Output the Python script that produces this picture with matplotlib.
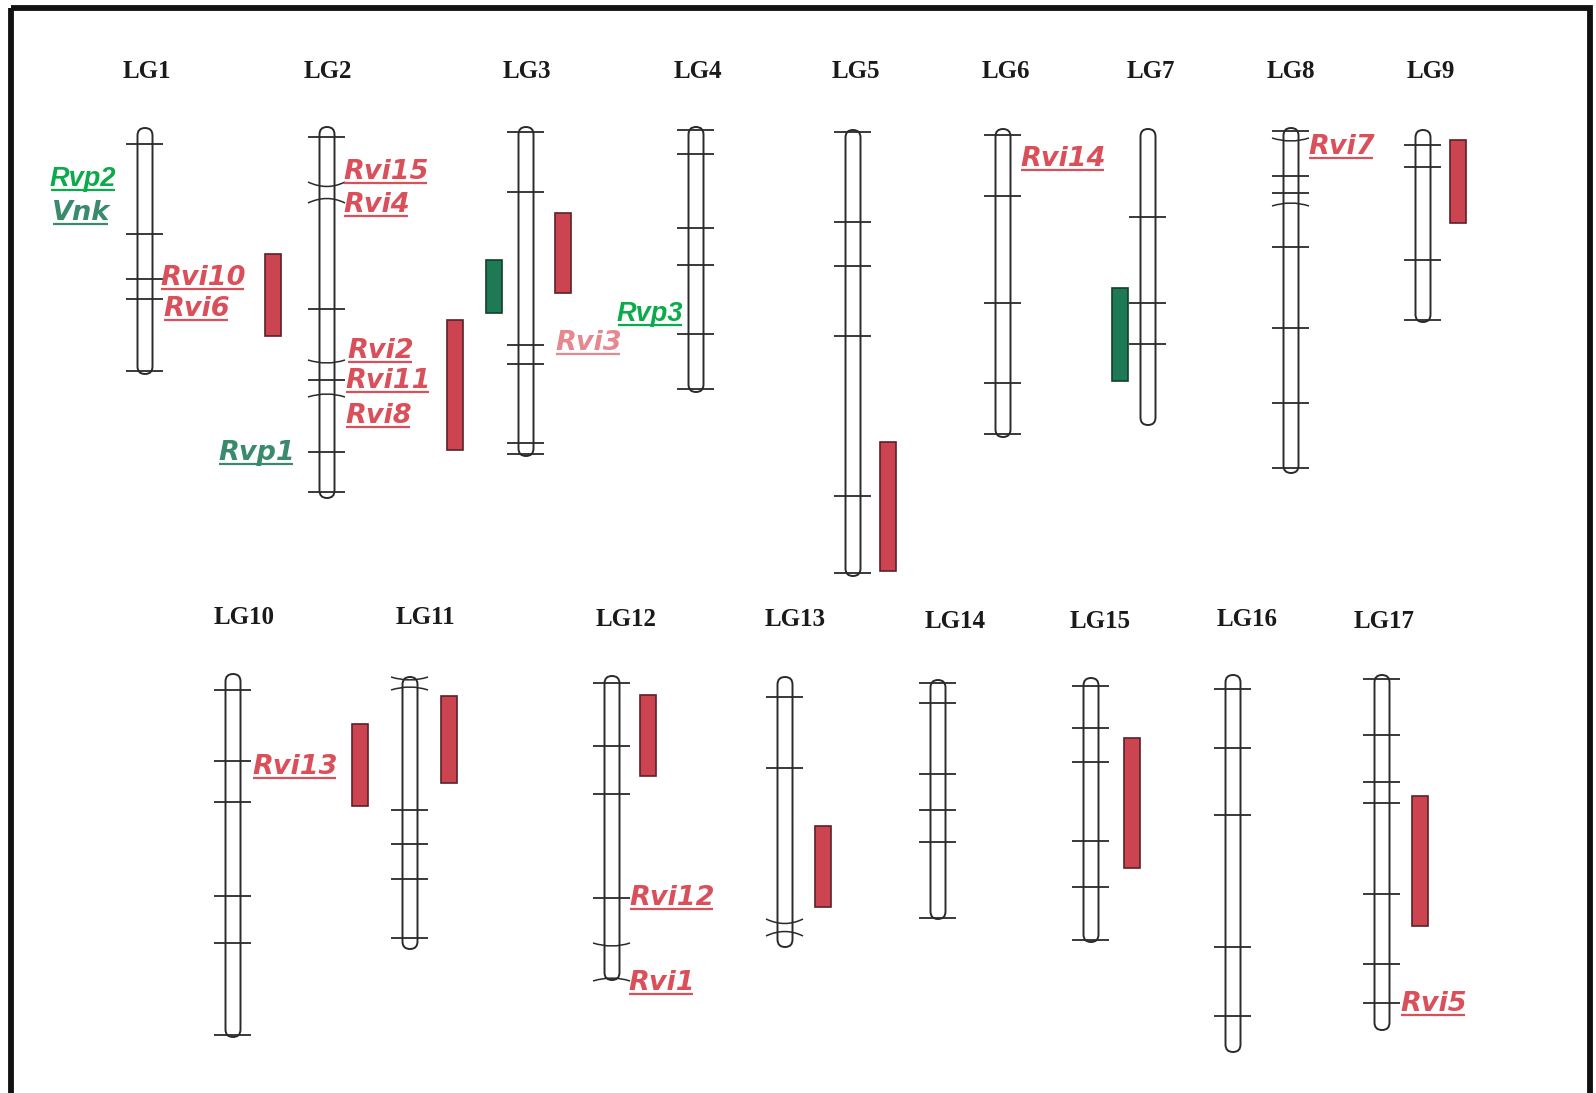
import matplotlib
matplotlib.use("Agg")
import matplotlib.pyplot as plt
from matplotlib.patches import FancyBboxPatch, Rectangle, PathPatch
from matplotlib.path import Path

# ---------------- data (pixel coordinates of the map layout) ----------------
chrom_names = ["LG1", "LG2", "LG3", "LG4", "LG5", "LG6", "LG7", "LG8", "LG9",
               "LG10", "LG11", "LG12", "LG13", "LG14", "LG15", "LG16", "LG17"]
chrom_x = [145, 327, 526, 696, 853, 1003, 1148, 1291, 1423,
           233, 410, 612, 785, 938, 1091, 1233, 1382]
chrom_top = [128, 127, 127, 127, 130, 129, 129, 128, 130,
             674, 677, 676, 677, 680, 678, 675, 675]
chrom_bottom = [374, 498, 456, 392, 576, 437, 425, 473, 322,
                1037, 949, 980, 947, 919, 942, 1052, 1030]
name_x = [147, 328, 527, 698, 856, 1006, 1151, 1291, 1431,
          244, 425, 626, 795, 955, 1100, 1247, 1384]
name_y = [72, 72, 72, 72, 72, 72, 72, 72, 72,
          618, 618, 619, 620, 621, 621, 620, 621]

# marker positions per linkage group, and curvature of the marker line (0 = straight)
marker_pos = [
    [144, 234, 279, 299, 371],
    [137, 185, 200, 309, 362, 380, 395, 452, 492],
    [132, 192, 345, 364, 443, 454],
    [130, 154, 228, 265, 334, 389],
    [132, 222, 266, 336, 496, 573],
    [135, 196, 303, 383, 434],
    [217, 303, 344],
    [131, 140, 176, 193, 204, 247, 328, 403, 468],
    [145, 167, 260, 320],
    [690, 761, 802, 896, 943, 1035],
    [679, 688, 810, 844, 879, 938],
    [683, 746, 794, 898, 945, 979],
    [697, 768, 922, 933],
    [683, 703, 774, 810, 842, 918],
    [686, 728, 762, 841, 887, 940],
    [689, 748, 815, 947, 1016],
    [679, 735, 782, 803, 894, 964, 1003],
]
marker_bow = [
    [0, 0, 0, 0, 0],
    [0, 3, -3, 0, 2, 0, -2, 0, 0],
    [0, 0, 0, 0, 0, 0],
    [0, 0, 0, 0, 0, 0],
    [0, 0, 0, 0, 0, 0],
    [0, 0, 0, 0, 0],
    [0, 0, 0],
    [0, 2, 0, 0, -2, 0, 0, 0, 0],
    [0, 0, 0, 0],
    [0, 0, 0, 0, 0, 0],
    [2, -2, 0, 0, 0, 0],
    [0, 0, 0, 0, 2, -2],
    [0, 0, 3, -3],
    [0, 0, 0, 0, 0, 0],
    [0, 0, 0, 0, 0, 0],
    [0, 0, 0, 0, 0],
    [0, 0, 0, 0, 0, 0, 0],
]

# QTL intervals: left edge, start, end, trait type
qtl_left = [265, 447, 486, 555, 880, 1112, 1450, 352, 441, 640, 815, 1124, 1412]
qtl_start = [254, 320, 260, 213, 442, 288, 140, 724, 696, 695, 826, 738, 796]
qtl_end = [336, 450, 313, 293, 571, 381, 223, 806, 783, 776, 907, 868, 926]
qtl_type = ["vi", "vi", "vp", "vi", "vi", "vp", "vi", "vi", "vi", "vi", "vi", "vi", "vi"]

# gene labels: text, left x, baseline y, style
gene_text = ["Rvp2", "Vnk", "Rvi10", "Rvi6", "Rvi15", "Rvi4", "Rvi2", "Rvi11", "Rvi8",
             "Rvp1", "Rvp3", "Rvi3", "Rvi14", "Rvi7", "Rvi13", "Rvi12", "Rvi1", "Rvi5"]
gene_x = [50, 52, 160, 163, 343, 343, 347, 345, 345,
          218, 617, 555, 1020, 1308, 252, 629, 628, 1400]
gene_y = [186, 220, 285, 316, 179, 212, 358, 388, 423,
          460, 321, 350, 166, 154, 774, 905, 990, 1011]
gene_style = ["new", "old", "vi", "vi", "vi", "vi", "vi", "vi", "vi",
              "old", "new", "faint", "vi", "vi", "vi", "vi", "vi", "vi"]

# ---------------- styles ----------------
W, H = 1596, 1093
chrom_w = 15
tick_left, tick_right = 19, 18
line_col = "#2a2a2a"
qtl_fill = {"vi": "#cc4450", "vp": "#1d7a55"}
qtl_edge = {"vi": "#5a2228", "vp": "#12402e"}
label_col = {"vi": "#d9505b", "faint": "#e58890", "old": "#3a8a6c", "new": "#0aab4a"}

fig = plt.figure(figsize=(W / 100, H / 100), dpi=100)
ax = fig.add_axes([0, 0, 1, 1])
ax.set_xlim(0, W)
ax.set_ylim(H, 0)
ax.axis("off")
fig.patch.set_facecolor("white")

# frame (bottom edge sits at the image border)
ax.add_patch(Rectangle((11, 8), 1590 - 11, 1096 - 8, fill=False, lw=4.2,
                       edgecolor="#111111", zorder=1, clip_on=True))

# chromosomes
for i, name in enumerate(chrom_names):
    x, t, b = chrom_x[i], chrom_top[i], chrom_bottom[i]
    ax.add_patch(FancyBboxPatch((x - chrom_w / 2, t), chrom_w, b - t,
                                boxstyle=f"round,pad=0,rounding_size={chrom_w / 2}",
                                facecolor="white", edgecolor=line_col, lw=1.4, zorder=3))
    for y, bow in zip(marker_pos[i], marker_bow[i]):
        if bow == 0:
            ax.plot([x - tick_left, x + tick_right], [y, y], color=line_col, lw=1.3,
                    zorder=4, solid_capstyle="butt")
        else:
            verts = [(x - tick_left, y - bow), (x, y + 2 * bow), (x + tick_right, y - bow)]
            p = Path(verts, [Path.MOVETO, Path.CURVE3, Path.CURVE3])
            ax.add_patch(PathPatch(p, fill=False, edgecolor=line_col, lw=1.1, zorder=4))
    ax.text(name_x[i], name_y[i], name, ha="center", va="center",
            fontfamily="Liberation Serif", fontweight="bold", fontsize=18,
            color="#1a1a1a", zorder=5)

# QTL bars
for x0, s, e, kind in zip(qtl_left, qtl_start, qtl_end, qtl_type):
    ax.add_patch(Rectangle((x0, s), 16, e - s, facecolor=qtl_fill[kind],
                           edgecolor=qtl_edge[kind], lw=1.2, zorder=5))

# gene labels with underline
fig.canvas.draw()
renderer = fig.canvas.get_renderer()
inv = ax.transData.inverted()
for txt, x, y, st in zip(gene_text, gene_x, gene_y, gene_style):
    if st == "new":
        t = ax.text(x, y, txt, ha="left", va="baseline", fontfamily="Liberation Sans",
                    fontstyle="italic", fontweight="bold", fontsize=19.5,
                    color=label_col[st], zorder=6)
    else:
        t = ax.text(x, y, txt, ha="left", va="baseline", fontfamily="DejaVu Sans",
                    fontstyle="oblique", fontweight="bold", fontsize=19.5,
                    color=label_col[st], zorder=6)
    bb = t.get_window_extent(renderer)
    (x0, _), (x1, _) = inv.transform([(bb.x0, bb.y0), (bb.x1, bb.y1)])
    ax.plot([x0 + 1, x1 - 2], [y + 4, y + 4], color=label_col[st], lw=1.6,
            zorder=6, solid_capstyle="butt")

fig.savefig("out.png", dpi=100, facecolor="white")
